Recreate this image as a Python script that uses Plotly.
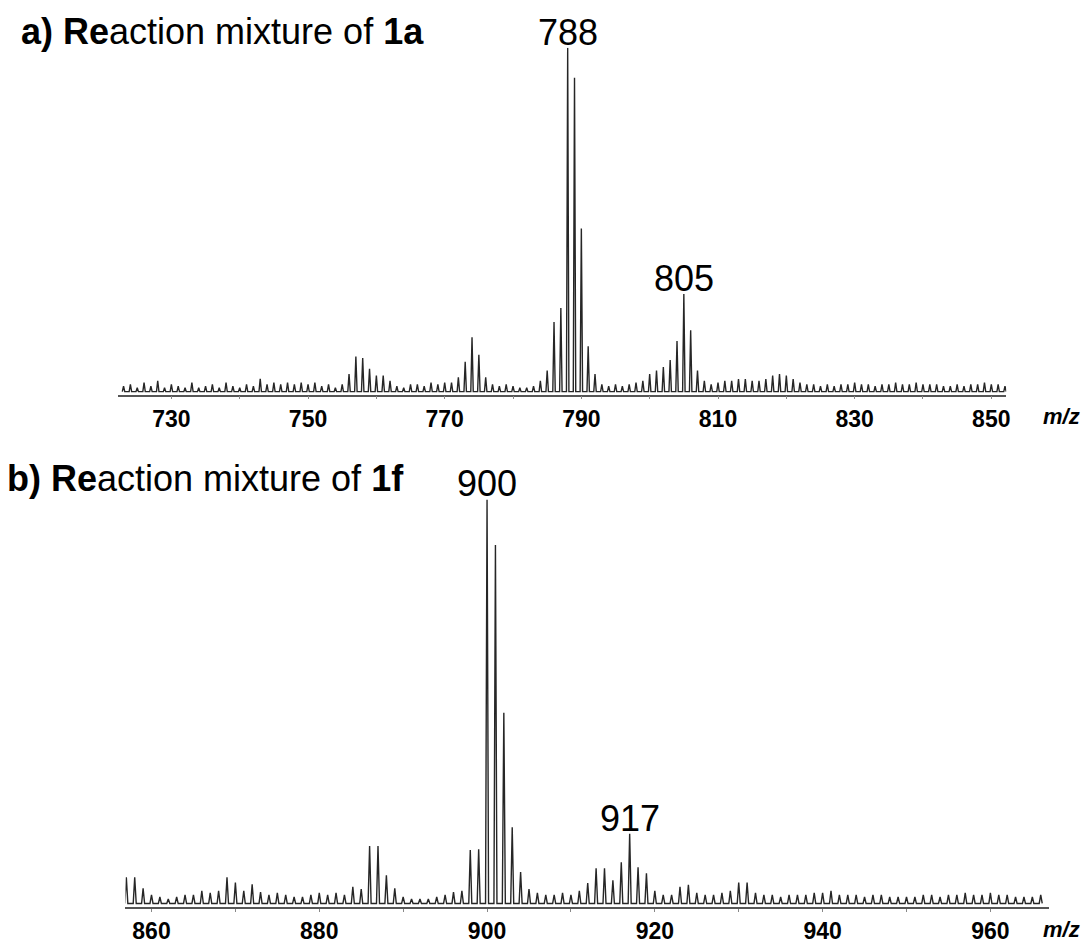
import plotly.graph_objects as go

# ---- Spectrum a) reaction mixture of 1a : relative intensity (%) per nominal m/z ----
mz_a_start = 723
int_a = [
    2.5, 3, 2, 3.5, 2.5, 4, 2,                      # 723-729
    3, 2.5, 2, 3.5, 2, 2.5, 3, 2, 3.5, 2.5,         # 730-739
    2, 3, 2.5, 4.6, 3, 3.5, 3, 3.5, 3, 3.5,         # 740-749
    3, 3.5, 2.5, 3, 2, 3, 6, 11, 10.6, 7.5,         # 750-759
    5.5, 5.5, 4, 2.5, 2, 3, 3, 2.5, 3.5, 3,         # 760-769
    3.5, 3.5, 5, 9.5, 16.6, 11.5, 5, 3, 2.5, 3,     # 770-779
    2.5, 2, 2, 2.5, 4, 7, 21, 25, 100, 91.4,        # 780-789
    47.9, 14, 6, 3, 2.5, 3, 2.5, 3, 3.5, 4,         # 790-799
    6, 7, 8, 10, 15.5, 29, 18.6, 7, 4, 3,           # 800-809
    3.5, 4, 4, 4.5, 4.5, 4, 4, 4.5, 5.5, 6,         # 810-819
    5.5, 4.5, 3.5, 3, 3, 2.5, 3, 2.5, 3, 3,         # 820-829
    3.5, 3, 3, 2.5, 3, 3, 3.5, 3, 3, 3.5,           # 830-839
    3, 3, 3, 2.5, 2.5, 3, 2.5, 3, 3, 3.5,           # 840-849
    3, 3, 2.5,                                      # 850-852
]
mz_a = [mz_a_start + i for i in range(len(int_a))]
labels_a = [788, 805]
ticks_a = [730, 750, 770, 790, 810, 830, 850]

# ---- Spectrum b) reaction mixture of 1f ----
mz_b_start = 857
int_b = [
    7.3, 7.3, 4.6,                                  # 857-859
    3, 2.5, 2, 2.5, 3, 3, 4, 3.5, 4, 7.3,           # 860-869
    6, 4, 5.6, 3.7, 3, 3.5, 3, 2.5, 2.5, 3,         # 870-879
    3.5, 3, 3.5, 3, 5, 4.4, 15, 15, 7.8, 4.6,       # 880-889
    2.5, 2, 2, 2, 2.5, 3, 3.7, 4, 14, 14.2,         # 890-899
    100, 88.8, 47.7, 19.6, 8.6, 4.4, 3.5, 3, 3, 3.5,  # 900-909
    3, 4, 5.9, 9.5, 9.5, 6.6, 11, 18, 9.8, 8.3,     # 910-919
    4, 3, 3, 5, 5.5, 3.5, 3, 3, 3.5, 4,             # 920-929
    6, 6, 3.5, 3, 3, 2.5, 3, 3, 3, 3.5,             # 930-939
    3.5, 4, 3, 3, 3, 2.5, 3, 3, 2.5, 2.5,           # 940-949
    2.5, 2.5, 3, 3, 2.5, 3, 3, 3.5, 3, 3,           # 950-959
    3.5, 3, 3, 2.5, 2.5, 2.5, 3,                    # 960-966
]
mz_b = [mz_b_start + i for i in range(len(int_b))]
labels_b = [900, 917]
ticks_b = [860, 880, 900, 920, 940, 960]

FONT = "Liberation Sans"
INK = "#262626"


def stick_profile(mz, inten, half=0.18, floor=0.9):
    """Turn a peak list into a spiky profile line."""
    xs, ys = [], []
    for m, h in zip(mz, inten):
        xs += [m - half, m, m + half]
        ys += [floor, h, floor]
    return xs, ys


fig = go.Figure()

xa, ya = stick_profile(mz_a, int_a)
fig.add_trace(go.Scatter(x=xa, y=ya, mode="lines", line=dict(color=INK, width=1.4),
                         xaxis="x", yaxis="y", hoverinfo="skip", showlegend=False))
xb, yb = stick_profile(mz_b, int_b)
fig.add_trace(go.Scatter(x=xb, y=yb, mode="lines", line=dict(color=INK, width=1.4),
                         xaxis="x2", yaxis="y2", hoverinfo="skip", showlegend=False))

axis_common = dict(
    showline=True, linecolor="#555555", linewidth=1.5, showgrid=False, zeroline=False,
    ticks="outside", ticklen=3, tickcolor="#888888", tickwidth=1,
    tickfont=dict(family=FONT, size=23, color="black", weight="bold"),
    minor=dict(dtick=10, ticks="outside", ticklen=3, tickcolor="#888888"),
    fixedrange=True,
)

fig.update_layout(
    width=1083, height=944,
    margin=dict(l=0, r=0, t=0, b=0),
    paper_bgcolor="white", plot_bgcolor="white",
    xaxis=dict(domain=[0.109, 0.9326], range=[722.13, 852.19], anchor="y",
               tickvals=ticks_a, tick0=730, **axis_common),
    yaxis=dict(domain=[0.5805, 0.9492], range=[0, 100], visible=False, fixedrange=True),
    xaxis2=dict(domain=[0.1163, 0.9723], range=[856.9, 967.0], anchor="y2",
                tickvals=ticks_b, tick0=860, **axis_common),
    yaxis2=dict(domain=[0.036, 0.4693], range=[0, 100], visible=False, fixedrange=True),
)

annotations = []
# panel headings
annotations.append(dict(text="<b>a) Re</b>action mixture of <b>1a</b>", x=0.018, y=0.966,
                        xref="paper", yref="paper", xanchor="left", yanchor="middle",
                        showarrow=False, font=dict(family=FONT, size=36, color="black")))
annotations.append(dict(text="<b>b) Re</b>action mixture of <b>1f</b>", x=0.005, y=0.491,
                        xref="paper", yref="paper", xanchor="left", yanchor="middle",
                        showarrow=False, font=dict(family=FONT, size=36, color="black")))

# peak labels, placed on top of the labelled peaks
for mz, inten, labs, xr, yr in [(mz_a, int_a, labels_a, "x", "y"), (mz_b, int_b, labels_b, "x2", "y2")]:
    for m in labs:
        h = inten[mz.index(m)]
        annotations.append(dict(text=str(m), x=m, y=h, xref=xr, yref=yr,
                                xanchor="center", yanchor="bottom", yshift=-7,
                                showarrow=False, font=dict(family=FONT, size=36, color="black")))

# m/z axis captions
for yy in (0.557, 0.0127):
    annotations.append(dict(text="<b><i>m/z</i></b>", x=0.984, y=yy, xref="paper", yref="paper",
                            xanchor="center", yanchor="middle", showarrow=False,
                            font=dict(family=FONT, size=22, color="black")))

fig.update_layout(annotations=annotations)
fig.write_html("out.html")
